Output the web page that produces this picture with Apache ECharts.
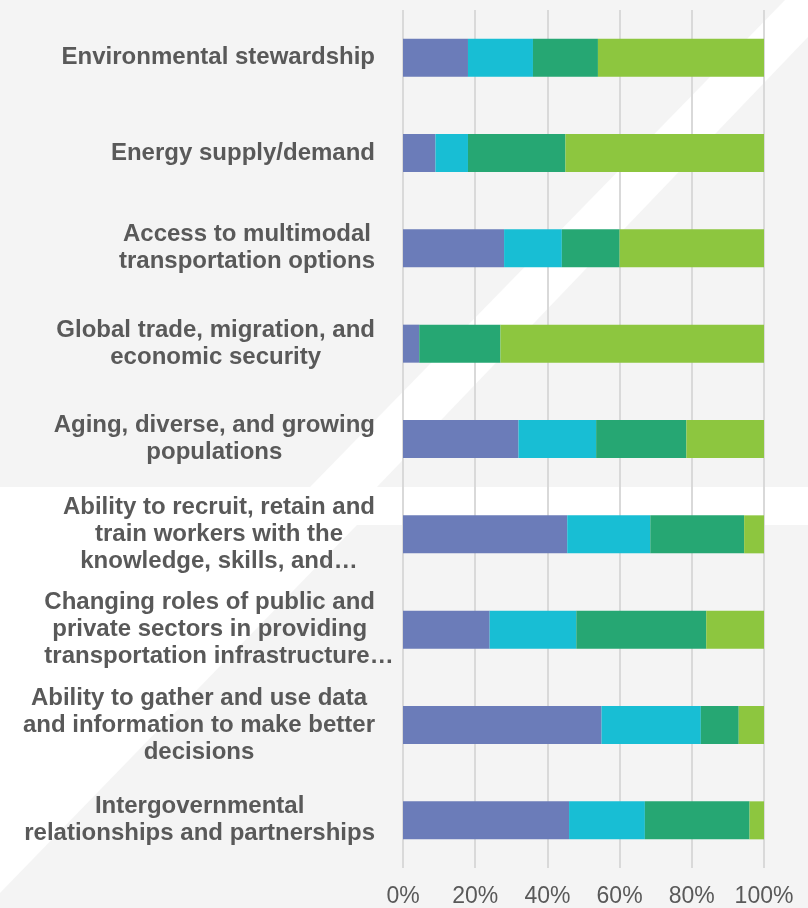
<!DOCTYPE html>
<html>
<head>
<meta charset="utf-8">
<script src="https://cdn.jsdelivr.net/npm/echarts@6/dist/echarts.min.js"></script>
<style>
  html, body { margin: 0; padding: 0; background: #ffffff; }
  #chart { width: 808px; height: 908px; }
</style>
</head>
<body>
<div id="chart"></div>
<script>
// categories, top to bottom
var categories = [
    'Environmental stewardship',
    'Energy supply/demand',
    'Access to multimodal\ntransportation options',
    'Global trade, migration, and\neconomic security',
    'Aging, diverse, and growing\npopulations',
    'Ability to recruit, retain and\ntrain workers with the\nknowledge, skills, and…',
    'Changing roles of public and\nprivate sectors in providing\ntransportation infrastructure…',
    'Ability to gather and use data\nand information to make better\ndecisions',
    'Intergovernmental\nrelationships and partnerships'
];
// share of responses (%), one array per stacked segment
var seriesNames = ['Series 1', 'Series 2', 'Series 3', 'Series 4'];
var values1 = [18, 9, 28, 4.5, 32, 45.5, 24, 55, 46];
var values2 = [18, 9, 16, 0, 21.5, 23, 24, 27.5, 21];
var values3 = [18, 27, 16, 22.5, 25, 26, 36, 10.5, 29];
var values4 = [46, 55, 40, 73, 21.5, 5.5, 16, 7, 4];
var xTicks = [0, 20, 40, 60, 80, 100];

var colors = ['#6b7cb9', '#18bed4', '#26a773', '#8dc63f'];
var fontFamily = '"Liberation Sans", Arial, sans-serif';
var labelSize = 24;
var labelColor = '#595959';

// measure label lines so an overflowing "…" hangs past the centred block like in Excel
var ctx = document.createElement('canvas').getContext('2d');
ctx.font = 'bold ' + labelSize + 'px ' + fontFamily;
var rich = {
    c: { align: 'center', fontSize: labelSize, fontWeight: 'bold', color: labelColor,
         lineHeight: 27, fontFamily: fontFamily }
};
var labelMap = {};
categories.forEach(function (cat, i) {
    var lines = cat.split('\n');
    var widths = lines.map(function (l) { return ctx.measureText(l).width; });
    var out = lines.map(function (l, j) {
        var others = widths.filter(function (w, k) { return k !== j; });
        var maxOther = others.length ? Math.max.apply(null, others) : 0;
        if (l.slice(-1) === '…' && widths[j] > maxOther && lines.length > 1) {
            var key = 'e' + i;
            rich[key] = { align: 'left', width: ctx.measureText(l.slice(0, -1)).width,
                fontSize: labelSize, fontWeight: 'bold', color: labelColor,
                lineHeight: 27, fontFamily: fontFamily };
            return '{' + key + '|' + l + '}';
        }
        return '{c|' + l + '}';
    });
    labelMap[cat] = out.join('\n');
});

var chart = echarts.init(document.getElementById('chart'));

var option = {
    backgroundColor: '#ffffff',
    animation: false,
    graphic: [
        { type: 'polygon', z: -10, silent: true,
          shape: { points: [[0, 0], [785, 0], [310, 487], [0, 487]] },
          style: { fill: '#f4f4f4' } },
        { type: 'polygon', z: -10, silent: true,
          shape: { points: [[808, 37], [808, 487], [377, 487]] },
          style: { fill: '#f4f4f4' } },
        { type: 'polygon', z: -10, silent: true,
          shape: { points: [[357, 525], [808, 525], [808, 908], [0, 908], [0, 893]] },
          style: { fill: '#f4f4f4' } }
    ],
    grid: { left: 403, right: 44, top: 10, bottom: 39, containLabel: false },
    xAxis: {
        type: 'value',
        min: xTicks[0],
        max: xTicks[xTicks.length - 1],
        interval: xTicks[1] - xTicks[0],
        axisLine: { show: false },
        axisTick: { show: false },
        splitLine: { show: true, lineStyle: { color: '#d9d9d9', width: 2 } },
        axisLabel: {
            formatter: '{value}%',
            color: labelColor,
            fontSize: 23,
            fontFamily: fontFamily,
            margin: 17
        }
    },
    yAxis: {
        type: 'category',
        data: categories,
        inverse: true,
        axisLine: { show: false },
        axisTick: { show: false },
        axisLabel: {
            margin: 28,
            interval: 0,
            align: 'right',
            formatter: function (v) { return labelMap[v]; },
            rich: rich
        }
    },
    series: [values1, values2, values3, values4].map(function (vals, i) {
        return {
            name: seriesNames[i],
            type: 'bar',
            stack: 'total',
            barWidth: 38,
            data: vals,
            itemStyle: { color: colors[i] }
        };
    })
};

chart.setOption(option);
</script>
</body>
</html>
